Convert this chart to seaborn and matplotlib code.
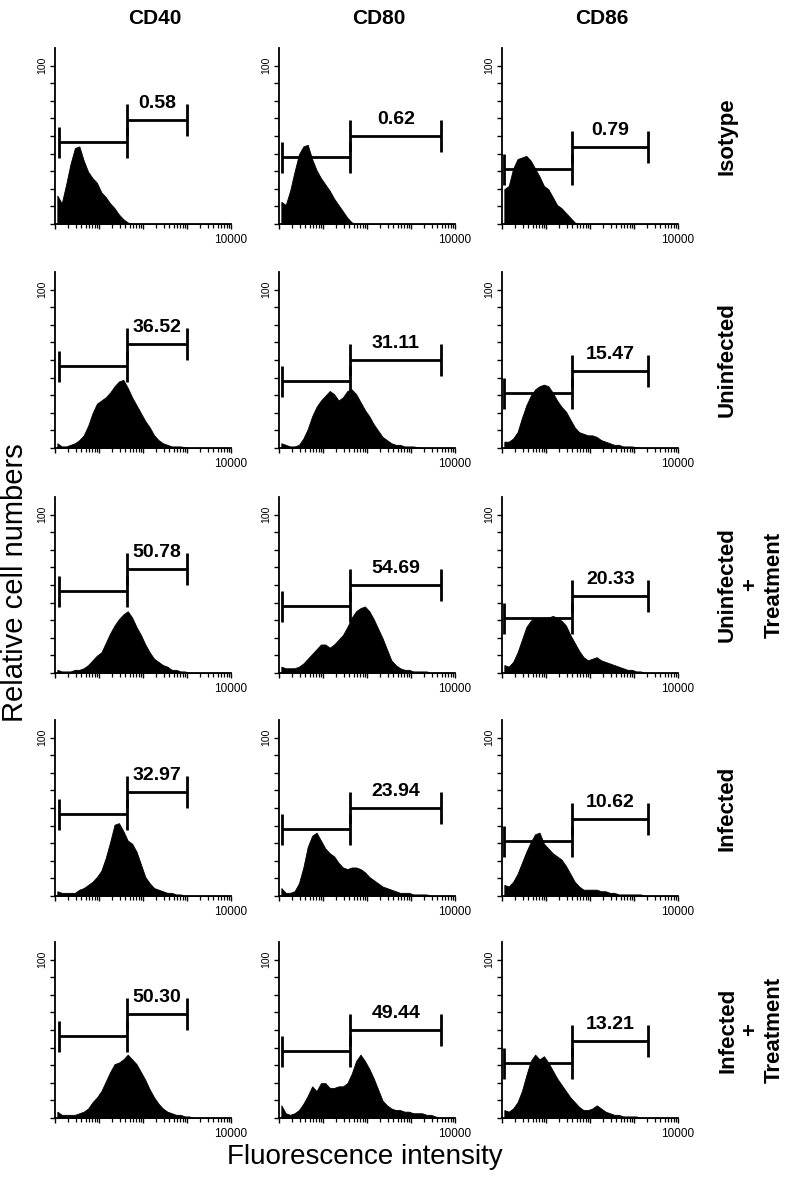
import numpy as np
import pandas as pd
import matplotlib
matplotlib.use('Agg')
import matplotlib.pyplot as plt
import seaborn as sns
from matplotlib.ticker import LogLocator, NullFormatter, FixedLocator

markers = ['CD40', 'CD80', 'CD86']
conditions = ['Isotype', 'Uninfected', 'Uninfected\n+\nTreatment', 'Infected', 'Infected\n+\nTreatment']

# relative cell numbers per 0.1-decade channel, first channel centred at log10 = 0.05
cd40_isotype = [18, 13, 25, 38, 48, 49, 40, 33, 29, 26, 20, 17, 13, 10, 6, 3, 1]
cd80_isotype = [14, 12, 21, 33, 44, 49, 50, 41, 34, 29, 25, 21, 16, 12, 8, 4, 1]
cd86_isotype = [22, 24, 35, 41, 42, 43, 40, 35, 30, 24, 22, 17, 12, 10, 7, 4, 1]

cd40_uninf = [3, 1, 1, 2, 3, 5, 8, 14, 22, 28, 30, 32, 35, 39, 42, 43, 38, 32, 27, 22, 17, 13, 8, 5, 3, 2, 1, 1, 1, 0.5]
cd80_uninf = [3, 2, 1, 1, 2, 6, 12, 20, 26, 30, 33, 36, 34, 30, 32, 36, 37, 34, 29, 24, 20, 15, 11, 7, 5, 3, 2, 2, 1, 1, 1, 0.5]
cd86_uninf = [4, 4, 6, 10, 19, 27, 33, 37, 39, 40, 39, 35, 30, 26, 23, 18, 13, 10, 9, 8, 8, 7, 5, 4, 3, 2, 2, 1, 1, 1, 0.5]

cd40_uninf_tr = [2, 1, 1, 1, 2, 2, 3, 5, 8, 11, 13, 19, 25, 30, 34, 37, 39, 35, 29, 24, 18, 13, 9, 7, 5, 4, 2, 2, 1, 1]
cd80_uninf_tr = [4, 3, 3, 3, 4, 6, 9, 12, 15, 18, 18, 16, 18, 21, 24, 29, 35, 39, 41, 42, 39, 34, 28, 22, 15, 8, 5, 3, 2, 2, 1, 1, 1, 1]
cd86_uninf_tr = [5, 4, 7, 13, 21, 29, 33, 35, 34, 34, 35, 36, 35, 33, 30, 24, 19, 14, 10, 8, 9, 10, 8, 7, 6, 5, 4, 3, 2, 2, 1, 1]

cd40_inf = [3, 2, 2, 2, 2, 4, 5, 7, 9, 12, 16, 24, 34, 45, 46, 41, 35, 33, 28, 20, 12, 8, 5, 4, 3, 2, 2, 1, 1]
cd80_inf = [5, 2, 2, 3, 8, 18, 31, 38, 40, 35, 30, 27, 25, 21, 18, 17, 18, 18, 17, 15, 12, 10, 8, 6, 5, 4, 3, 2, 2, 2, 1, 1, 1, 1]
cd86_inf = [7, 6, 9, 14, 21, 28, 34, 39, 40, 33, 30, 27, 25, 23, 19, 14, 9, 6, 4, 4, 4, 4, 3, 3, 2, 2, 1, 1, 1, 1, 1, 1]

cd40_inf_tr = [4, 2, 2, 2, 2, 3, 4, 6, 10, 13, 17, 23, 29, 34, 35, 37, 40, 37, 34, 29, 24, 18, 13, 9, 6, 4, 3, 2, 2, 1, 1]
cd80_inf_tr = [8, 3, 2, 3, 5, 9, 14, 20, 17, 22, 22, 19, 19, 20, 20, 22, 28, 36, 40, 36, 31, 25, 18, 11, 8, 6, 5, 5, 4, 4, 3, 3, 3, 2, 2, 1]
cd86_inf_tr = [5, 4, 6, 10, 17, 27, 36, 40, 37, 39, 35, 30, 25, 21, 17, 13, 10, 7, 5, 5, 6, 8, 6, 4, 3, 2, 2, 1, 1, 1, 1]

hists = [
    [cd40_isotype, cd80_isotype, cd86_isotype],
    [cd40_uninf, cd80_uninf, cd86_uninf],
    [cd40_uninf_tr, cd80_uninf_tr, cd86_uninf_tr],
    [cd40_inf, cd80_inf, cd86_inf],
    [cd40_inf_tr, cd80_inf_tr, cd86_inf_tr],
]

# % positive cells
pct_cd40 = [0.58, 36.52, 50.78, 32.97, 50.30]
pct_cd80 = [0.62, 31.11, 54.69, 23.94, 49.44]
pct_cd86 = [0.79, 15.47, 20.33, 10.62, 13.21]
pcts = [pct_cd40, pct_cd80, pct_cd86]

# gate markers per marker (fluorescence) and their heights
gate_start = [1.25, 1.2, 1.1]
gate_split = [43, 42, 40]
gate_end = [1000, 4800, 2130]
neg_bar_y = [51.5, 42, 34.5]
pos_bar_y = [65.5, 55.5, 48.4]

sns.set_style('ticks')
plt.rcParams['font.family'] = ['Liberation Sans', 'DejaVu Sans']
plt.rcParams['text.color'] = 'black'
plt.rcParams['xtick.color'] = 'black'
plt.rcParams['ytick.color'] = 'black'

W, H = 789, 1178
fig = plt.figure(figsize=(W / 100, H / 100), dpi=100)
col_left = [55, 279, 502]
row_top = [48, 272, 497, 720, 942]
size = 176
ymax = 100 / 0.9
minor_pos = [m * 10 ** d for d in range(4) for m in range(2, 10)]

for r in range(5):
    for c in range(3):
        ax = fig.add_axes([col_left[c] / W, 1 - (row_top[r] + size) / H, size / W, size / H])
        counts = hists[r][c]
        chan = 10 ** (0.05 + 0.1 * np.arange(len(counts)))
        df = pd.DataFrame({'fl': chan, 'n': counts})
        sns.histplot(data=df, x='fl', weights='n', log_scale=True, binrange=(0, 4), binwidth=0.1,
                     element='poly', fill=True, color='black', alpha=1, linewidth=0.6, edgecolor='black', ax=ax)
        ax.set_xlim(1, 1e4)
        ax.set_ylim(0, ymax)
        ax.set_xlabel('')
        ax.set_ylabel('')
        ax.set_yticks(np.linspace(0, 100, 10))
        ax.set_yticklabels([''] * 9 + ['100'], rotation=90, va='center', fontsize=7.5)
        ax.set_xticks([1, 10, 100, 1000, 10000])
        ax.set_xticklabels([''] * 4 + ['10000'], fontsize=8.5)
        ax.xaxis.set_minor_locator(FixedLocator(minor_pos))
        ax.xaxis.set_minor_formatter(NullFormatter())
        ax.tick_params(which='both', direction='out', length=3.5, width=1, color='black', pad=2)
        ax.tick_params(axis='x', which='minor', length=3, width=0.9)
        ax.tick_params(axis='x', which='major', pad=4)
        sns.despine(ax=ax)
        for s in ['left', 'bottom']:
            ax.spines[s].set_linewidth(1.3)
            ax.spines[s].set_color('black')

        # gates
        ax.hlines(neg_bar_y[c], gate_start[c], gate_split[c], color='black', lw=2)
        ax.vlines([gate_start[c], gate_split[c]], neg_bar_y[c] - 10, neg_bar_y[c] + 10, color='black', lw=2)
        ax.hlines(pos_bar_y[c], gate_split[c], gate_end[c], color='black', lw=2)
        ax.vlines([gate_split[c], gate_end[c]], pos_bar_y[c] - 10, pos_bar_y[c] + 10, color='black', lw=2)
        ax.text(np.sqrt(gate_split[c] * gate_end[c]), pos_bar_y[c] + 10.5, '%.2f' % pcts[c][r],
                ha='center', va='center', fontsize=14, fontweight='bold')

# column titles
for c in range(3):
    fig.text((col_left[c] + size / 2 + 12) / W, 1 - 18 / H, markers[c], ha='center', va='center',
             fontsize=15, fontweight='bold')

# row labels
for r in range(5):
    xpx = 751 if '\n' in conditions[r] else 727
    fig.text(xpx / W, 1 - (row_top[r] + size / 2) / H, conditions[r], rotation=90, ha='center', va='center',
             multialignment='center', fontsize=16, fontweight='bold', linespacing=1.15)

fig.text(15 / W, 1 - 583 / H, 'Relative cell numbers', rotation=90, ha='center', va='center', fontsize=21)
fig.text(365 / W, 1 - 1157 / H, 'Fluorescence intensity', ha='center', va='center', fontsize=20)

fig.savefig('out.png', dpi=100)
